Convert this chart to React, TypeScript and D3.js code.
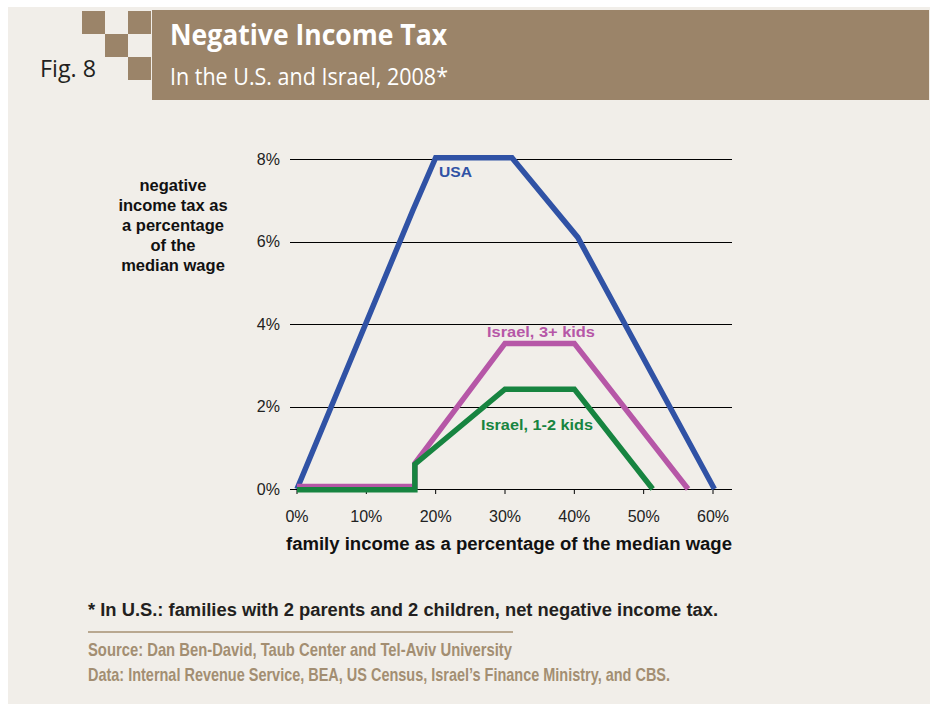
import React from "react";
import * as d3 from "d3";

const xTicks = [0, 10, 20, 30, 40, 50, 60];
const yTicks = [0, 2, 4, 6, 8];

const incomeUSA = [0, 16.7, 20, 31, 40.5, 60.2];
const taxUSA = [0, 6.75, 8.03, 8.03, 6.1, 0];

const incomeIL3 = [0, 17, 17, 30, 40, 56.4];
const taxIL3 = [0.06, 0.06, 0.62, 3.53, 3.53, 0];

const incomeIL12 = [0, 17, 17, 30, 40, 51.3];
const taxIL12 = [-0.02, -0.02, 0.6, 2.42, 2.42, 0];

const yTitleLines = ["negative", "income tax as", "a percentage", "of the", "median wage"];

const BLUE = "#3052a5";
const PINK = "#b657a7";
const GREEN = "#178440";
const BROWN = "#9b8469";
const PANEL = "#f1eee9";
const NARROW = "Liberation Sans Narrow, Liberation Sans, Arial, sans-serif";

export default function App() {
  const x = d3.scaleLinear().domain([0, 60]).range([297, 713]);
  const y = d3.scaleLinear().domain([0, 8]).range([489, 159]);
  const line = d3
    .line<[number, number]>()
    .x((d) => x(d[0]))
    .y((d) => y(d[1]));
  const pts = (xs: number[], ys: number[]) => xs.map((v, i) => [v, ys[i]] as [number, number]);

  const sq = 23;
  const checker = [
    [82, 11],
    [105, 34],
    [128, 11],
    [128, 57],
  ];

  return (
    <svg
      width={936}
      height={704}
      style={{ position: "absolute", left: 0, top: 0, display: "block" }}
      fontFamily="Liberation Sans, Arial, sans-serif"
    >
      <rect x={0} y={0} width={936} height={704} fill="#ffffff" />
      <rect x={8} y={7} width={922} height={697} fill={PANEL} />

      {checker.map(([cx, cy], i) => (
        <rect key={i} x={cx} y={cy} width={sq} height={sq} fill={BROWN} />
      ))}
      <rect x={152} y={10} width={777} height={90} fill={BROWN} />
      <text x={170} y={45} fill="#fff" fontFamily="Open Sans, sans-serif" fontWeight={700} fontSize={28} textLength={277} lengthAdjust="spacingAndGlyphs">
        Negative Income Tax
      </text>
      <text x={170} y={85} fill="#fff" fontFamily="Open Sans, sans-serif" fontWeight={400} fontSize={23.5} textLength={278} lengthAdjust="spacingAndGlyphs">
        In the U.S. and Israel, 2008*
      </text>
      <text x={40} y={77} fill="#231f20" fontFamily="Open Sans, sans-serif" fontSize={23.5} textLength={56} lengthAdjust="spacingAndGlyphs">
        Fig. 8
      </text>

      {yTicks.map((t) => (
        <g key={t}>
          <line x1={290} x2={732} y1={Math.round(y(t)) + 0.5} y2={Math.round(y(t)) + 0.5} stroke="#000" strokeWidth={1} />
          <text x={280} y={y(t)} dy="0.36em" textAnchor="end" fontSize={16} fill="#222">
            {t}%
          </text>
        </g>
      ))}
      {xTicks.map((t) => (
        <g key={t}>
          <line x1={x(t)} x2={x(t)} y1={y(0)} y2={y(0) + 5} stroke="#000" strokeWidth={1} />
          <text x={x(t)} y={522} textAnchor="middle" fontSize={16} fill="#222">
            {t}%
          </text>
        </g>
      ))}

      <text x={286} y={550} fontSize={17.5} fontWeight={700} fill="#111" textLength={446} lengthAdjust="spacingAndGlyphs">
        family income as a percentage of the median wage
      </text>
      {yTitleLines.map((s, i) => (
        <text key={i} x={173} y={191 + i * 20} textAnchor="middle" fontSize={16.5} fontWeight={700} fill="#111">
          {s}
        </text>
      ))}

      <path d={line(pts(incomeUSA, taxUSA)) || ""} fill="none" stroke={BLUE} strokeWidth={5.5} strokeLinejoin="miter" />
      <path d={line(pts(incomeIL3, taxIL3)) || ""} fill="none" stroke={PINK} strokeWidth={5.5} strokeLinejoin="miter" />
      <path d={line(pts(incomeIL12, taxIL12)) || ""} fill="none" stroke={GREEN} strokeWidth={5.5} strokeLinejoin="miter" />

      <text x={439} y={177} fontSize={15.5} fontWeight={700} fill={BLUE} textLength={33} lengthAdjust="spacingAndGlyphs">
        USA
      </text>
      <text x={487} y={337} fontSize={15.5} fontWeight={700} fill={PINK} textLength={108} lengthAdjust="spacingAndGlyphs">
        Israel, 3+ kids
      </text>
      <text x={481} y={430} fontSize={15.5} fontWeight={700} fill={GREEN} textLength={112} lengthAdjust="spacingAndGlyphs">
        Israel, 1-2 kids
      </text>

      <text x={88} y={616} fontSize={17.5} fontWeight={700} fill="#231f20" fontFamily={NARROW} textLength={630} lengthAdjust="spacingAndGlyphs">
        * In U.S.: families with 2 parents and 2 children, net negative income tax.
      </text>
      <line x1={88} x2={513} y1={632} y2={632} stroke="#b9a890" strokeWidth={2} />
      <text x={88} y={656} fontSize={18.5} fontWeight={700} fill="#a38e72" fontFamily={NARROW} textLength={424} lengthAdjust="spacingAndGlyphs">
        Source: Dan Ben-David, Taub Center and Tel-Aviv University
      </text>
      <text x={88} y={681} fontSize={18.5} fontWeight={700} fill="#a38e72" fontFamily={NARROW} textLength={582} lengthAdjust="spacingAndGlyphs">
        Data: Internal Revenue Service, BEA, US Census, Israel’s Finance Ministry, and CBS.
      </text>
    </svg>
  );
}
